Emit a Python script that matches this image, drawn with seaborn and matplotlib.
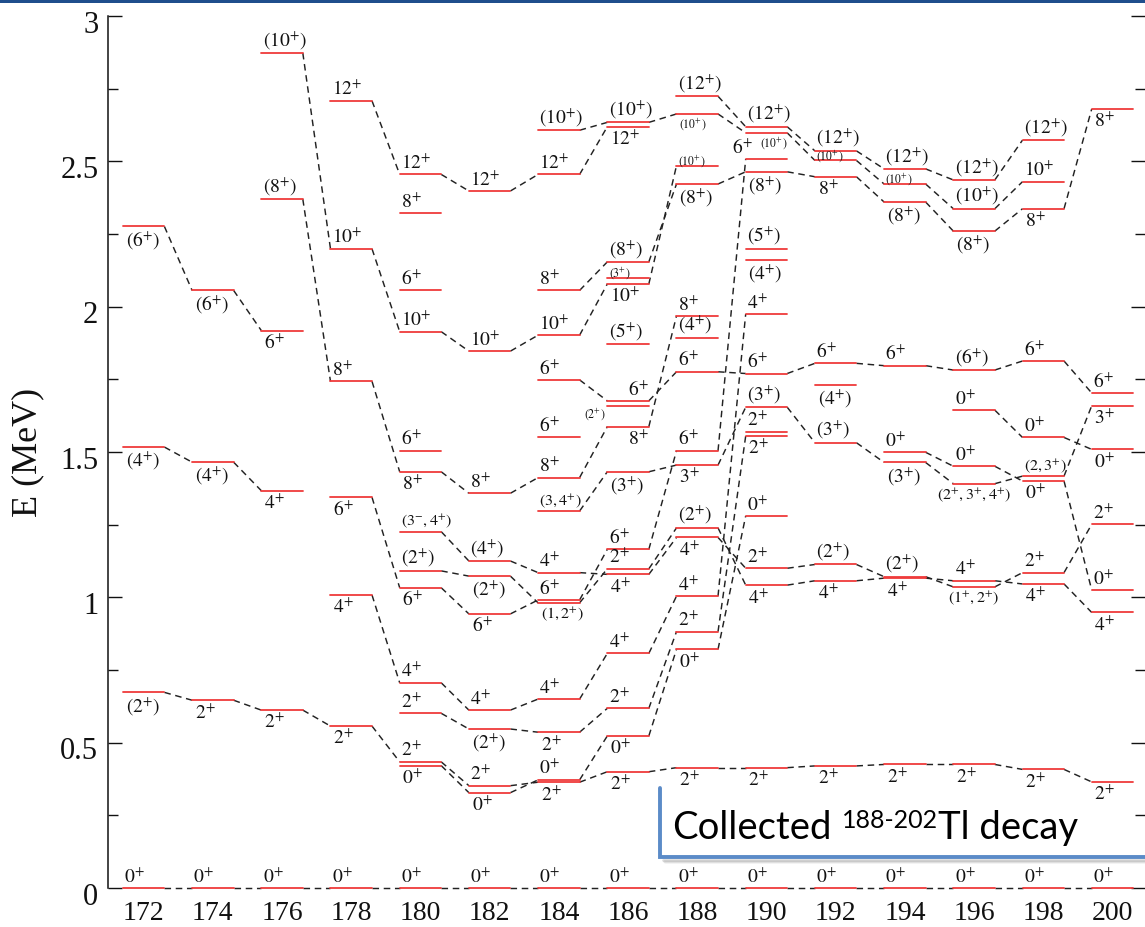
import matplotlib
matplotlib.use("Agg")
import matplotlib.pyplot as plt
import matplotlib.transforms as mtransforms
from matplotlib.lines import Line2D
from matplotlib.patches import Rectangle
from matplotlib.ticker import MultipleLocator, FuncFormatter
import pandas as pd
import seaborn as sns

# ---------------------------------------------------------------- data
MASSES = [172, 174, 176, 178, 180, 182, 184, 186, 188, 190, 192, 194, 196, 198, 200]

# level energies (MeV), spin-parity labels and label placement codes
# a = above, b = below, c = below centred, q = below right, r = above right,
# l = left (below), k = left (above)
E172 = [0.000, 0.673, 1.517, 2.276]
J172 = ["0+", "(2+)", "(4+)", "(6+)"]
P172 = "abbb"

E174 = [0.000, 0.646, 1.465, 2.056]
J174 = ["0+", "2+", "(4+)", "(6+)"]
P174 = "abbb"

E176 = [0.000, 0.612, 1.367, 1.918, 2.370, 2.873]
J176 = ["0+", "2+", "4+", "6+", "(8+)", "(10+)"]
P176 = "abbbaa"

E178 = [0.000, 0.557, 1.008, 1.344, 1.743, 2.199, 2.708]
J178 = ["0+", "2+", "4+", "6+", "8+", "10+", "12+"]
P178 = "abbbaaa"

E180 = [0.000, 0.421, 0.434, 0.601, 0.706, 1.033, 1.091, 1.226, 1.432, 1.504,
        1.914, 2.056, 2.321, 2.455]
J180 = ["0+", "0+", "2+", "2+", "4+", "6+", "(2+)", "(3-,4+)", "8+", "6+",
        "10+", "6+", "8+", "12+"]
P180 = "abaaabaabaaaaa"

E182 = [0.000, 0.328, 0.352, 0.547, 0.612, 0.943, 1.073, 1.125, 1.358, 1.847, 2.398]
J182 = ["0+", "0+", "2+", "(2+)", "4+", "6+", "(2+)", "(4+)", "8+", "10+", "12+"]
P182 = "abababbaaaa"

E184 = [0.000, 0.364, 0.372, 0.536, 0.650, 0.981, 0.991, 1.085, 1.297, 1.412,
        1.550, 1.748, 1.902, 2.056, 2.455, 2.607]
J184 = ["0+", "2+", "0+", "2+", "4+", "(1,2+)", "6+", "4+", "(3,4+)", "8+",
        "6+", "6+", "10+", "8+", "12+", "(10+)"]
P184 = "abababaaaaaaaaaa"

E186 = [0.000, 0.400, 0.523, 0.618, 0.807, 1.079, 1.098, 1.165, 1.432, 1.587,
        1.658, 1.676, 1.870, 2.078, 2.100, 2.154, 2.619, 2.634]
J186 = ["0+", "2+", "0+", "2+", "4+", "4+", "2+", "6+", "(3+)", "8+",
        "(2+)", "6+", "(5+)", "10+", "(3+)", "(8+)", "12+", "(10+)"]
P186 = "abbaabaabqlrabaaba"

E188 = [0.000, 0.414, 0.821, 0.882, 1.004, 1.206, 1.239, 1.455, 1.504, 1.776,
        1.893, 1.968, 2.422, 2.485, 2.663, 2.724]
J188 = ["0+", "2+", "0+", "2+", "4+", "4+", "(2+)", "3+", "6+", "6+",
        "(4+)", "8+", "(8+)", "(10+)", "(10+)", "(12+)"]
P188 = "abbaababaaaababa"

E190 = [0.000, 0.414, 1.042, 1.100, 1.280, 1.555, 1.570, 1.654, 1.770, 1.975,
        2.162, 2.200, 2.464, 2.508, 2.598, 2.619]
J190 = ["0+", "2+", "4+", "2+", "0+", "2+", "2+", "(3+)", "6+", "4+",
        "(4+)", "(5+)", "(8+)", "6+", "(10+)", "(12+)"]
P190 = "abbaabaaaababkqa"

E192 = [0.000, 0.420, 1.057, 1.113, 1.532, 1.730, 1.805, 2.447, 2.503, 2.536]
J192 = ["0+", "2+", "4+", "(2+)", "(3+)", "(4+)", "6+", "8+", "(10+)", "(12+)"]
P192 = "abbaababaa"

E194 = [0.000, 0.425, 1.066, 1.071, 1.464, 1.499, 1.797, 2.360, 2.422, 2.474]
J194 = ["0+", "2+", "4+", "(2+)", "(3+)", "0+", "6+", "(8+)", "(10+)", "(12+)"]
P194 = "abbabaabaa"

E196 = [0.000, 0.425, 1.036, 1.057, 1.391, 1.451, 1.644, 1.782, 2.260, 2.337, 2.436]
J196 = ["0+", "2+", "(1+,2+)", "4+", "(2+,3+,4+)", "0+", "0+", "(6+)", "(8+)",
        "(10+)", "(12+)"]
P196 = "abcacaaabaa"

E198 = [0.000, 0.408, 1.046, 1.085, 1.400, 1.417, 1.550, 1.813, 2.337, 2.430, 2.573]
J198 = ["0+", "2+", "4+", "2+", "0+", "(2,3+)", "0+", "6+", "8+", "10+", "(12+)"]
P198 = "abbabaaabaa"

E200 = [0.000, 0.365, 0.948, 1.025, 1.251, 1.509, 1.659, 1.703, 2.680]
J200 = ["0+", "2+", "4+", "0+", "2+", "0+", "3+", "6+", "8+"]
P200 = "abbaabbab"

# labels set in a smaller type
SMALL = [(186, 1.658), (186, 2.100), (188, 2.485), (188, 2.663), (190, 2.598),
         (192, 2.503), (194, 2.422)]

# bands: sequences of (A, E) joined by dashed lines
BAND_GS = [(a, 0.0) for a in MASSES]
BAND_2 = [(172, 0.673), (174, 0.646), (176, 0.612), (178, 0.557), (180, 0.434),
          (182, 0.352), (184, 0.364), (186, 0.400), (188, 0.414), (190, 0.414),
          (192, 0.420), (194, 0.425), (196, 0.425), (198, 0.408), (200, 0.365)]
BAND_4L = [(172, 1.517), (174, 1.465), (176, 1.367)]
BAND_6L = [(172, 2.276), (174, 2.056), (176, 1.918)]
BAND_8 = [(176, 2.370), (178, 1.743), (180, 1.432), (182, 1.358), (184, 1.412),
          (186, 1.587), (188, 1.968)]
BAND_10 = [(176, 2.873), (178, 2.199), (180, 1.914), (182, 1.847), (184, 1.902),
           (186, 2.078), (188, 2.485)]
BAND_12 = [(178, 2.708), (180, 2.455), (182, 2.398), (184, 2.455), (186, 2.619)]
BAND_10H = [(184, 2.607), (186, 2.634), (188, 2.663), (190, 2.598), (192, 2.503),
            (194, 2.422), (196, 2.337), (198, 2.430)]
BAND_12H = [(188, 2.724), (190, 2.619), (192, 2.536), (194, 2.474), (196, 2.436),
            (198, 2.573)]
BAND_8H = [(184, 2.056), (186, 2.154), (188, 2.422), (190, 2.464), (192, 2.447),
           (194, 2.360), (196, 2.260), (198, 2.337), (200, 2.680)]
BAND_6 = [(178, 1.344), (180, 1.033), (182, 0.943), (184, 0.991), (186, 1.165),
          (188, 1.504), (190, 2.508)]
BAND_4 = [(178, 1.008), (180, 0.706), (182, 0.612), (184, 0.650), (186, 0.807),
          (188, 1.004), (190, 1.975)]
BAND_0 = [(180, 0.421), (182, 0.328), (184, 0.372), (186, 0.523), (188, 0.821),
          (190, 1.280)]
BAND_2B = [(180, 0.601), (182, 0.547), (184, 0.536), (186, 0.618), (188, 0.882),
           (190, 1.555)]
BAND_2C = [(180, 1.091), (182, 1.073), (184, 0.981), (186, 1.098), (188, 1.239),
           (190, 1.042), (192, 1.057), (194, 1.066), (196, 1.057), (198, 1.046),
           (200, 0.948)]
BAND_4C = [(180, 1.226), (182, 1.125), (184, 1.085), (186, 1.079), (188, 1.206),
           (190, 1.100), (192, 1.113), (194, 1.071), (196, 1.036), (198, 1.085),
           (200, 1.251)]
BAND_3 = [(184, 1.297), (186, 1.432), (188, 1.455), (190, 1.654), (192, 1.532),
          (194, 1.464), (196, 1.391), (198, 1.417), (200, 1.659)]
BAND_6M = [(184, 1.748), (186, 1.676), (188, 1.776), (190, 1.770), (192, 1.805),
           (194, 1.797), (196, 1.782), (198, 1.813), (200, 1.703)]
BAND_0C = [(194, 1.499), (196, 1.451), (198, 1.400), (200, 1.025)]
BAND_0D = [(196, 1.644), (198, 1.550), (200, 1.509)]

YTICKS = [0, 0.5, 1, 1.5, 2, 2.5, 3]

LEVELS = {
    172: (E172, J172, P172), 174: (E174, J174, P174), 176: (E176, J176, P176),
    178: (E178, J178, P178), 180: (E180, J180, P180), 182: (E182, J182, P182),
    184: (E184, J184, P184), 186: (E186, J186, P186), 188: (E188, J188, P188),
    190: (E190, J190, P190), 192: (E192, J192, P192), 194: (E194, J194, P194),
    196: (E196, J196, P196), 198: (E198, J198, P198), 200: (E200, J200, P200),
}
BANDS = [BAND_GS, BAND_2, BAND_4L, BAND_6L, BAND_8, BAND_10, BAND_12, BAND_10H,
         BAND_12H, BAND_8H, BAND_6, BAND_4, BAND_0, BAND_2B, BAND_2C, BAND_4C,
         BAND_3, BAND_6M, BAND_0C, BAND_0D]

# ---------------------------------------------------------------- style
sns.set_theme(style="white")
plt.rcParams["font.family"] = ["Liberation Serif", "DejaVu Serif"]
plt.rcParams["mathtext.fontset"] = "stix"
plt.rcParams["axes.unicode_minus"] = False

HW = 0.6              # half width of a level bar (in mass units)
RED = "#ef3a3a"
DASH = "#222222"
W, H = 1145, 927


def fx(px):
    return px / W


def fy(py):
    return 1 - py / H


def spin_tex(s):
    return r"$\mathrm{" + s.replace("+", "^{+}").replace("-", "^{-}") + "}$"


fig = plt.figure(figsize=(W / 100, H / 100), dpi=100)
ax = fig.add_axes([fx(108), 39 / H, (W - 108) / W, 872 / H])

# level bars and band connectors as unit-wise line segments
lv_rows, seg = [], 0
for a in MASSES:
    for e in LEVELS[a][0]:
        lv_rows += [(seg, a - HW, e), (seg, a + HW, e)]
        seg += 1
levels = pd.DataFrame(lv_rows, columns=["seg", "A", "E"])

cn_rows = []
for band in BANDS:
    for (a0, e0), (a1, e1) in zip(band[:-1], band[1:]):
        cn_rows += [(seg, a0 + HW, e0), (seg, a1 - HW, e1)]
        seg += 1
links = pd.DataFrame(cn_rows, columns=["seg", "A", "E"])

sns.lineplot(data=links, x="A", y="E", units="seg", estimator=None, sort=False,
             color=DASH, lw=1.05, ls=(0, (4.5, 3.2)), legend=False, ax=ax,
             clip_on=False)
sns.lineplot(data=levels, x="A", y="E", units="seg", estimator=None, sort=False,
             color=RED, lw=1.3, legend=False, ax=ax, clip_on=False)

# spin-parity labels
for a in MASSES:
    E, J, P = LEVELS[a]
    for e, j, p in zip(E, J, P):
        small = (a, e) in SMALL
        if small:
            fs = 8.5
        elif "," in j:
            fs = 11.5
        else:
            fs = 14
        if p == "a":
            xy, off, ha, va = (a - HW, e), (1, -3 if small else 1), "left", "bottom"
        elif p == "b":
            xy, off, ha, va = (a - HW, e), (2, -2), "left", "top"
        elif p == "c":
            xy, off, ha, va = (a, e), (0, -2), "center", "top"
        elif p == "q":
            xy, off, ha, va = (a + HW, e), (0, -2), "right", "top"
        elif p == "r":
            xy, off, ha, va = (a + HW, e), (0, 0.5), "right", "bottom"
        elif p == "l":
            xy, off, ha, va = (a - HW, e), (-1, -0.5), "right", "top"
        else:  # "k"
            xy, off, ha, va = (a - HW, e), (5, 0.5), "right", "bottom"
        ax.annotate(spin_tex(j), xy=xy, xytext=off, textcoords="offset points",
                    ha=ha, va=va, fontsize=fs, color="#111111",
                    annotation_clip=False)

# axes
ax.set_xlim(170.97, 200.94)
ax.set_ylim(0, 3)
ax.set_xticks(MASSES)
ax.set_xticklabels([str(m) for m in MASSES])
ax.set_yticks(YTICKS)
ax.yaxis.set_minor_locator(MultipleLocator(0.25))
ax.yaxis.set_major_formatter(FuncFormatter(lambda v, _: f"{v:g}"))
for side in ["top", "right", "bottom"]:
    ax.spines[side].set_visible(False)
ax.spines["left"].set_color("#111111")
ax.spines["left"].set_linewidth(1.1)
ax.tick_params(axis="x", length=0, pad=9, labelsize=20, colors="#111111")
ax.tick_params(axis="y", which="both", direction="in", left=True, right=True,
               width=1.0, colors="#111111", labelsize=22, pad=7)
ax.tick_params(axis="y", which="major", length=10)
ax.tick_params(axis="y", which="minor", length=7.5)
shift = mtransforms.ScaledTranslation(0, -4 / 72, fig.dpi_scale_trans)
for lab in ax.get_yticklabels():
    lab.set_transform(lab.get_transform() + shift)
ax.set_xlabel("")
ax.set_ylabel("E (MeV)", fontsize=26, color="#111111")
ax.yaxis.set_label_coords(-0.061, 0.5)
ax.grid(False)

# slide decorations: header rule and caption box
fig.add_artist(Rectangle((0, fy(3)), 1, 3 / H, transform=fig.transFigure,
                         color="#1f4e8c", lw=0))
BLUE = "#5b8bc8"
for k, alpha in [(3, 0.10), (2, 0.18), (1, 0.25)]:
    fig.add_artist(Line2D([fx(662 + k), fx(W)], [fy(859 + k), fy(859 + k)],
                          transform=fig.transFigure, color="#808080",
                          alpha=alpha, lw=2))
fig.add_artist(Line2D([fx(660), fx(660), fx(W)], [fy(788), fy(857), fy(857)],
                      transform=fig.transFigure, color=BLUE, lw=2.8,
                      solid_joinstyle="miter"))
t1 = fig.text(fx(672), fy(839), "Collected", fontsize=27.5, family="Lato",
              color="#000000", va="baseline", ha="left")
t2 = ax.annotate("188-202", xy=(1, 1), xycoords=t1, xytext=(7.5, 1),
                 textcoords="offset points", fontsize=18, family="Lato",
                 color="#000000", ha="left", va="top", annotation_clip=False)
t3 = ax.annotate("Tl decay", xy=(1, 0), xycoords=(t2, t1), xytext=(0, 0),
                 textcoords="offset points", fontsize=27.5, family="Lato",
                 color="#000000", ha="left", va="bottom", annotation_clip=False)

fig.savefig("out.png", dpi=100, facecolor="white")
